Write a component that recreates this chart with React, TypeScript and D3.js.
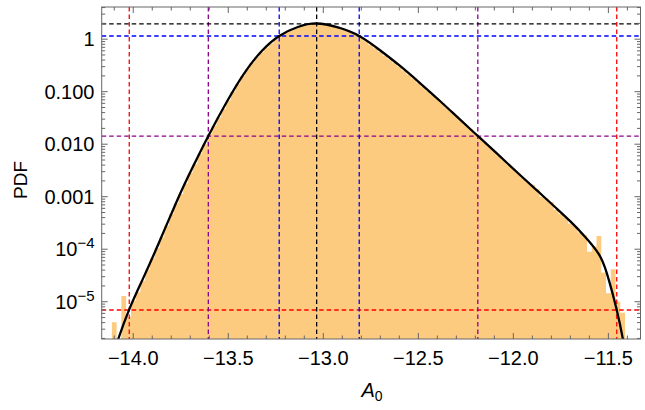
import React from "react";
import * as d3 from "d3";

const W = 645;
const H = 410;
const M = { left: 101.7, right: 640.5, top: 7, bottom: 339 };

const xDomain = [-14.166, -11.331];
const yDomain = [1.95e-6, 4.1];

// histogram: bins of width 0.025 starting at binStart; values are log10(PDF), null = empty bin
const binStart = -14.1125;
const binWidth = 0.025;
const binLog10: (number | null)[] = [
  -5.39, null, -4.89, -5.29, -4.98, -4.82, -4.6, -4.39, -4.17, -3.98,
  -3.77, -3.55, -3.33, -3.13, -2.95, -2.75, -2.55, -2.38, -2.18, -2.0,
  -1.81, -1.65, -1.49, -1.33, -1.17, -1.0, -0.85, -0.7, -0.57, -0.45,
  -0.34, -0.25, -0.16, -0.08, 0.0, 0.07, 0.12, 0.16, 0.2, 0.235,
  0.255, 0.272, 0.288, 0.296, 0.287, 0.267, 0.245, 0.222, 0.19, 0.154,
  0.117, 0.08, 0.03, -0.04, -0.11, -0.175, -0.245, -0.315, -0.38, -0.45,
  -0.52, -0.595, -0.672, -0.75, -0.826, -0.905, -0.98, -1.06, -1.135, -1.215,
  -1.3, -1.38, -1.465, -1.55, -1.635, -1.715, -1.8, -1.885, -1.97, -2.05,
  -2.135, -2.22, -2.3, -2.39, -2.47, -2.555, -2.64, -2.72, -2.77, -2.86,
  -3.0, -3.04, -3.1, -3.25, -3.33, -3.39, -3.51, -3.56, -3.68, -3.74,
  -4.05, -3.95, -3.75, -4.45, -4.84, -4.38, -5.0, -5.21, null,
];

// smooth density curve (A0, log10 PDF)
const curveA = [
  -14.1, -14.079, -14.021, -13.95, -13.87, -13.768, -13.69, -13.605, -13.512,
  -13.418, -13.325, -13.232, -13.134, -13.035, -12.923, -12.811, -12.7, -12.596,
  -12.49, -12.386, -12.29, -12.187, -12.08, -11.965, -11.87, -11.781, -11.7,
  -11.623, -11.553, -11.508, -11.456, -11.421, -11.4,
];
const curveLog10 = [
  -5.95, -5.71, -5.145, -4.57, -3.92, -3.063, -2.46, -1.844, -1.22,
  -0.66, -0.23, 0.061, 0.232, 0.299, 0.225, 0.061, -0.215, -0.51,
  -0.84, -1.177, -1.5, -1.844, -2.2, -2.587, -2.9, -3.196, -3.47,
  -3.762, -4.078, -4.459, -5.158, -5.762, -6.2,
];

// reference dashed lines (interval bounds and density levels)
const refColors = ["#ff0000", "#8b008b", "#0000ff", "#000000"];
const refLo = [-14.021, -13.605, -13.232, -13.035];
const refHi = [-11.456, -12.187, -12.811, -13.035];
const refDensity = [6.95e-6, 0.0143, 1.15, 1.95];

const xMajor = [-14.0, -13.5, -13.0, -12.5, -12.0, -11.5];
const xLabels = ["\u221214.0", "\u221213.5", "\u221213.0", "\u221212.5", "\u221212.0", "\u221211.5"];
const yMajor = [1, 0.1, 0.01, 0.001, 1e-4, 1e-5];
const yLabelBase = ["1", "0.100", "0.010", "0.001", "10", "10"];
const yLabelExp = ["", "", "", "", "\u22124", "\u22125"];

const FONT = "'Liberation Sans', Arial, sans-serif";

export default function App() {
  const x = d3.scaleLinear().domain(xDomain).range([M.left, M.right]);
  const y = d3.scaleLog().domain(yDomain).range([M.bottom, M.top]);

  // stair-shaped outline of histogram runs (avoids seams between bars)
  const base = M.bottom + 2;
  let histPath = "";
  let open = false;
  binLog10.forEach((v, i) => {
    const x0 = x(binStart + i * binWidth);
    const x1 = x(binStart + (i + 1) * binWidth);
    if (v === null) {
      if (open) {
        histPath += `L${x0},${base}Z`;
        open = false;
      }
      return;
    }
    const yt = y(Math.pow(10, v));
    if (!open) {
      histPath += `M${x0},${base}`;
      open = true;
    }
    histPath += `L${x0},${yt}L${x1},${yt}`;
    if (i === binLog10.length - 1) {
      histPath += `L${x1},${base}Z`;
      open = false;
    }
  });
  if (open) {
    const xe = x(binStart + binLog10.length * binWidth);
    histPath += `L${xe},${base}Z`;
  }

  const pts: [number, number][] = curveA.map((a, i) => [x(a), y(Math.pow(10, curveLog10[i]))]);
  const linePath = d3.line().curve(d3.curveNatural)(pts) || "";

  const xMinor: number[] = d3.range(-142, -113).map((k) => k / 10).filter(
    (v) => v >= xDomain[0] && v <= xDomain[1] && !xMajor.some((m) => Math.abs(m - v) < 1e-6)
  );
  const yMinor: number[] = [];
  for (let d = -6; d <= 0; d++) {
    for (let k = 2; k <= 9; k++) {
      const v = k * Math.pow(10, d);
      if (v >= yDomain[0] && v <= yDomain[1]) yMinor.push(v);
    }
  }

  const frameColor = "#666666";
  const majLen = 6;
  const minLen = 3.5;

  return (
    <svg
      width={W}
      height={H}
      style={{ position: "absolute", left: 0, top: 0, background: "#fff" }}
      fontFamily={FONT}
    >
      <defs>
        <clipPath id="plotArea">
          <rect x={M.left} y={M.top} width={M.right - M.left} height={M.bottom - M.top} />
        </clipPath>
      </defs>
      <rect x={0} y={0} width={W} height={H} fill="#fff" />
      <g clipPath="url(#plotArea)">
        <path d={histPath} fill="#fccb80" stroke="none" />
        {refColors.map((c, i) => (
          <g key={"ref" + i} stroke={c} strokeWidth={1.3} strokeDasharray="4.5,3" fill="none">
            <line x1={M.left} x2={M.right} y1={y(refDensity[i])} y2={y(refDensity[i])} />
            <line x1={x(refLo[i])} x2={x(refLo[i])} y1={M.top} y2={M.bottom} />
            {refHi[i] !== refLo[i] && (
              <line x1={x(refHi[i])} x2={x(refHi[i])} y1={M.top} y2={M.bottom} />
            )}
          </g>
        ))}
        <path d={linePath} fill="none" stroke="#000" strokeWidth={2.3} strokeLinejoin="round" />
      </g>

      {/* frame */}
      <rect
        x={M.left}
        y={M.top}
        width={M.right - M.left}
        height={M.bottom - M.top}
        fill="none"
        stroke={frameColor}
        strokeWidth={1}
      />
      {/* ticks */}
      <g stroke={frameColor} strokeWidth={1}>
        {xMajor.map((v) => (
          <g key={"xM" + v}>
            <line x1={x(v)} x2={x(v)} y1={M.bottom} y2={M.bottom - majLen} />
            <line x1={x(v)} x2={x(v)} y1={M.top} y2={M.top + majLen} />
          </g>
        ))}
        {xMinor.map((v) => (
          <g key={"xm" + v}>
            <line x1={x(v)} x2={x(v)} y1={M.bottom} y2={M.bottom - minLen} />
            <line x1={x(v)} x2={x(v)} y1={M.top} y2={M.top + minLen} />
          </g>
        ))}
        {yMajor.map((v) => (
          <g key={"yM" + v}>
            <line x1={M.left} x2={M.left + majLen} y1={y(v)} y2={y(v)} />
            <line x1={M.right} x2={M.right - majLen} y1={y(v)} y2={y(v)} />
          </g>
        ))}
        {yMinor.map((v) => (
          <g key={"ym" + v}>
            <line x1={M.left} x2={M.left + minLen} y1={y(v)} y2={y(v)} />
            <line x1={M.right} x2={M.right - minLen} y1={y(v)} y2={y(v)} />
          </g>
        ))}
      </g>
      {/* x tick labels */}
      {xMajor.map((v, i) => (
        <text key={"xl" + v} x={x(v)} y={365} textAnchor="middle" fontSize={20} fill="#000">
          {xLabels[i]}
        </text>
      ))}
      {/* y tick labels */}
      {yMajor.map((v, i) => (
        <text key={"yl" + v} x={94.5} y={y(v) + 7} textAnchor="end" fontSize={20} fill="#000">
          {yLabelBase[i]}
          {yLabelExp[i] && (
            <tspan dy={-8} fontSize={15}>
              {yLabelExp[i]}
            </tspan>
          )}
        </text>
      ))}
      {/* axis labels */}
      <text
        transform="translate(27, 180) rotate(-90)"
        textAnchor="middle"
        fontSize={19}
        fill="#000"
      >
        PDF
      </text>
      <text x={372} y={397} textAnchor="middle" fontSize={20} fill="#000">
        <tspan fontStyle="italic">A</tspan>
        <tspan dy={4} fontSize={14}>
          0
        </tspan>
      </text>
    </svg>
  );
}
